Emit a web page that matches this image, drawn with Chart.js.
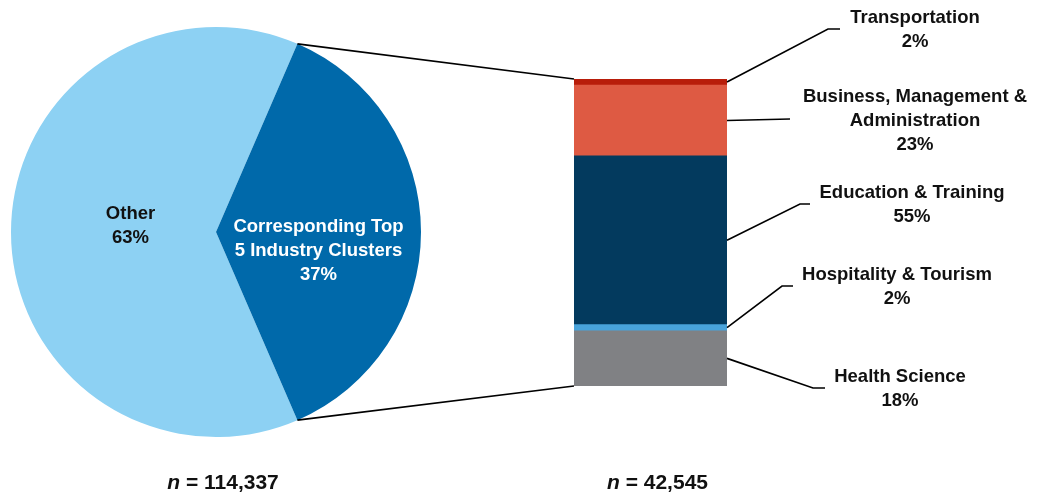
<!DOCTYPE html>
<html>
<head>
<meta charset="utf-8">
<script src="https://cdn.jsdelivr.net/npm/chart.js@4/dist/chart.umd.min.js"></script>
<style>
  html, body { margin: 0; padding: 0; background: #fff; }
  #wrap { position: relative; width: 1039px; height: 496px; }
  #wrap canvas { position: absolute; left: 0; top: 0; }
</style>
</head>
<body>
<div id="wrap">
  <canvas id="pieChart" width="1039" height="496"></canvas>
  <canvas id="barChart" width="1039" height="496"></canvas>
</div>
<script>
// Overall split
const pieLabels = ['Other', 'Corresponding Top 5 Industry Clusters'];
const pieValues = [63, 37];
const pieColors = ['#8DD1F3', '#0069AA'];
const pieN = '114,337';

// Breakdown of the top 5 clusters, bottom of the stack first
const barLabels = ['Health Science', 'Hospitality & Tourism', 'Education & Training',
  'Business, Management & Administration', 'Transportation'];
const barValues = [18, 2, 55, 23, 2];
const barColors = ['#808184', '#48A3DB', '#033A5E', '#DE5A43', '#B81D0A'];
const barN = '42,545';

const FONT = '"Liberation Sans", Arial, sans-serif';
const TXT = '#111';

// wrapped text for the callouts
const pieLines = [['Other', '63%'], ['Corresponding Top', '5 Industry Clusters', '37%']];
const pieShift = [[17, -6], [0, 19]];
const barLines = [
  ['Health Science', '18%'],
  ['Hospitality & Tourism', '2%'],
  ['Education & Training', '55%'],
  ['Business, Management &', 'Administration', '23%'],
  ['Transportation', '2%']
];
// leader elbow / end and text anchor for each bar label
const barCallouts = [
  { elbow: [813, 388], end: 825, tx: 900, ty: 377 },
  { elbow: [782, 286], end: 793, tx: 897, ty: 275 },
  { elbow: [800, 204], end: 810, tx: 912, ty: 193 },
  { elbow: [790, 119], end: 790, tx: 915, ty: 97 },
  { elbow: [828, 29], end: 840, tx: 915, ty: 18 }
];
const LINE_H = 24;

function drawN(ctx, cx, y, value) {
  ctx.save();
  ctx.textBaseline = 'middle';
  ctx.fillStyle = TXT;
  const a = 'n', b = ' = ' + value;
  ctx.font = 'italic bold 21px ' + FONT;
  const wa = ctx.measureText(a).width;
  ctx.font = 'bold 21px ' + FONT;
  const wb = ctx.measureText(b).width;
  let x = cx - (wa + wb) / 2;
  ctx.textAlign = 'left';
  ctx.font = 'italic bold 21px ' + FONT;
  ctx.fillText(a, x, y);
  ctx.font = 'bold 21px ' + FONT;
  ctx.fillText(b, x + wa, y);
  ctx.restore();
}

const pieTextPlugin = {
  id: 'pieText',
  afterDraw(chart) {
    const ctx = chart.ctx;
    const arcs = chart.getDatasetMeta(0).data;
    ctx.save();
    ctx.textAlign = 'center';
    ctx.textBaseline = 'middle';
    ctx.font = 'bold 18.5px ' + FONT;
    arcs.forEach((arc, i) => {
      const p = arc.tooltipPosition();
      const lines = pieLines[i];
      const y0 = p.y + pieShift[i][1] - (lines.length - 1) * LINE_H / 2;
      ctx.fillStyle = i === 1 ? '#fff' : TXT;
      lines.forEach((t, k) => ctx.fillText(t, p.x + pieShift[i][0], y0 + k * LINE_H));
    });
    ctx.restore();
    drawN(ctx, arcs[0].x + 7, 483, pieN);
  }
};

// rotate so the top-5 wedge is centred on the right-hand side
const total = pieValues.reduce((a, b) => a + b, 0);
const otherDeg = 360 * pieValues[0] / total;
const top5Deg = 360 * pieValues[1] / total;
const pieRotation = 90 - otherDeg - top5Deg / 2;

const pieChart = new Chart(document.getElementById('pieChart'), {
  type: 'pie',
  data: {
    labels: pieLabels,
    datasets: [{ data: pieValues, backgroundColor: pieColors, borderWidth: 0, hoverOffset: 0 }]
  },
  options: {
    responsive: false,
    animation: false,
    events: [],
    rotation: pieRotation,
    layout: { padding: { left: 11, right: 618, top: 27, bottom: 59 } },
    plugins: { legend: { display: false }, tooltip: { enabled: false } }
  },
  plugins: [pieTextPlugin]
});

const barTextPlugin = {
  id: 'barText',
  afterDraw(chart) {
    const ctx = chart.ctx;
    const metas = barValues.map((v, i) => chart.getDatasetMeta(i).data[0]);
    const first = metas[0], last = metas[metas.length - 1];
    const left = first.x - first.width / 2;
    const right = first.x + first.width / 2;
    const top = last.y;
    const bottom = first.base;

    ctx.save();
    ctx.strokeStyle = '#000';
    ctx.lineWidth = 1.6;

    // connectors from the pie wedge to the stacked bar
    const arc = pieChart.getDatasetMeta(0).data[1];
    const r = arc.outerRadius;
    ctx.beginPath();
    ctx.moveTo(arc.x + r * Math.cos(arc.startAngle), arc.y + r * Math.sin(arc.startAngle));
    ctx.lineTo(left, top);
    ctx.moveTo(arc.x + r * Math.cos(arc.endAngle), arc.y + r * Math.sin(arc.endAngle));
    ctx.lineTo(left, bottom);
    ctx.stroke();

    // leader lines and labels
    ctx.textAlign = 'center';
    ctx.textBaseline = 'middle';
    ctx.font = 'bold 18.5px ' + FONT;
    ctx.fillStyle = TXT;
    metas.forEach((bar, i) => {
      const c = barCallouts[i];
      const midY = (bar.y + bar.base) / 2;
      ctx.beginPath();
      ctx.moveTo(right, midY);
      ctx.lineTo(c.elbow[0], c.elbow[1]);
      ctx.lineTo(c.end, c.elbow[1]);
      ctx.stroke();
      barLines[i].forEach((t, k) => ctx.fillText(t, c.tx, c.ty + k * LINE_H));
    });
    ctx.restore();
    drawN(ctx, first.x + 7, 483, barN);
  }
};

new Chart(document.getElementById('barChart'), {
  type: 'bar',
  data: {
    labels: [''],
    datasets: barLabels.map((label, i) => ({
      label,
      data: [barValues[i]],
      backgroundColor: barColors[i],
      borderWidth: 0,
      barPercentage: 1,
      categoryPercentage: 1
    }))
  },
  options: {
    responsive: false,
    animation: false,
    events: [],
    layout: { padding: { left: 574, right: 312, top: 79, bottom: 110 } },
    scales: {
      x: { stacked: true, display: false },
      y: { stacked: true, display: false, min: 0, max: 100 }
    },
    plugins: { legend: { display: false }, tooltip: { enabled: false } }
  },
  plugins: [barTextPlugin]
});
</script>
</body>
</html>
